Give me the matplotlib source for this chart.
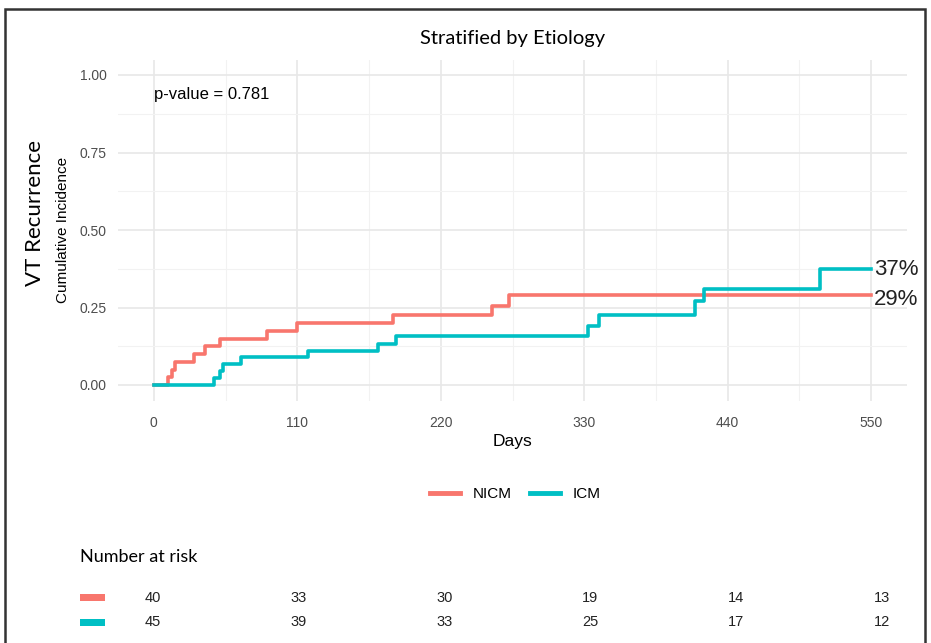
import matplotlib
matplotlib.use("Agg")
import matplotlib.pyplot as plt
from matplotlib.lines import Line2D
from matplotlib.patches import Rectangle

# cumulative incidence steps
nicm_days = [0, 11, 14, 16, 31, 39, 51, 87, 110, 183, 259, 272, 550]
nicm_inc = [0, 0.025, 0.05, 0.075, 0.10, 0.125, 0.15, 0.175, 0.20, 0.225, 0.255, 0.29, 0.29]
icm_days = [0, 46, 51, 53, 67, 118, 172, 186, 333, 341, 415, 422, 511, 550]
icm_inc = [0, 0.022, 0.044, 0.067, 0.089, 0.111, 0.133, 0.158, 0.19, 0.226, 0.27, 0.31, 0.373, 0.373]

groups = ["NICM", "ICM"]
colors = ["#F8766D", "#00BFC4"]
end_labels = ["29%", "37%"]
end_pos = [0.275, 0.374]

risk_days = [0, 110, 220, 330, 440, 550]
risk_nicm = [40, 33, 30, 19, 14, 13]
risk_icm = [45, 39, 33, 25, 17, 12]

W, H = 931, 643
fig = plt.figure(figsize=(W / 100, H / 100), dpi=100)

def fbox(x0, y0, x1, y1):
    return [x0 / W, 1 - y1 / H, (x1 - x0) / W, (y1 - y0) / H]

# frame around the picture
fig.patches.append(Rectangle((5 / W, -0.05), 920 / W, 1.05 - 9 / H, transform=fig.transFigure,
                             fill=False, edgecolor="#333333", linewidth=1.8))

ax = fig.add_axes(fbox(118, 59.5, 907, 400.5))
ax.step(nicm_days, nicm_inc, where="post", color=colors[0], lw=2.6)
ax.step(icm_days, icm_inc, where="post", color=colors[1], lw=2.6)
ax.set_xlim(-27.5, 577.5)
ax.set_ylim(-0.05, 1.05)
ax.set_xticks(risk_days)
ax.set_xticks([55, 165, 275, 385, 495], minor=True)
ax.set_yticks([0, 0.25, 0.5, 0.75, 1.0])
ax.set_yticks([0.125, 0.375, 0.625, 0.875], minor=True)
ax.set_yticklabels(["0.00", "0.25", "0.50", "0.75", "1.00"])
ax.grid(which="major", color="#E8E8E8", lw=1.2)
ax.grid(which="minor", color="#F2F2F2", lw=0.8)
ax.set_axisbelow(True)
for s in ax.spines.values():
    s.set_visible(False)
ax.tick_params(which="both", length=0, labelsize=10, labelcolor="#4D4D4D",
               labelfontfamily="Liberation Sans")
ax.tick_params(axis="x", pad=11)
ax.tick_params(axis="y", pad=8)
ax.set_xlabel("Days", fontsize=12.5, family="Liberation Sans", labelpad=3)
ax.set_title("Stratified by Etiology", fontsize=14.5, family="Lato", pad=11)

for lab, y in zip(end_labels, end_pos):
    ax.text(552, y, lab, fontsize=16, color="#222222", va="center", ha="left",
            family="Liberation Sans", clip_on=False)
ax.text(0, 0.937, "p-value = 0.781", fontsize=12, family="Liberation Sans", va="center")

fig.text(35 / W, 1 - 213 / H, "VT Recurrence", rotation=90, fontsize=16, family="Lato",
         ha="center", va="center")
fig.text(63 / W, 1 - 230 / H, "Cumulative Incidence", rotation=90, fontsize=11,
         family="Liberation Sans", ha="center", va="center")

handles = [Line2D([], [], color=c, lw=3.5) for c in colors]
fig.legend(handles, groups, loc="center", bbox_to_anchor=(515 / W, 1 - 494 / H), ncol=2,
           frameon=False, prop={"family": "Liberation Sans", "size": 11},
           handlelength=2.0, columnspacing=1.2, handletextpad=0.8)

# number at risk table
fig.text(80 / W, 1 - 557 / H, "Number at risk", fontsize=13, family="Lato", va="center")
rax = fig.add_axes(fbox(118, 585, 907, 635))
rax.set_xlim(-26.4, 568.8)
rax.set_ylim(0, 2)
rax.axis("off")
for row, (vals, c) in enumerate(zip([risk_nicm, risk_icm], colors)):
    y = 1.5 - row
    for d, v in zip(risk_days, vals):
        rax.text(d, y, str(v), ha="center", va="center", fontsize=10.5,
                 family="Liberation Sans", color="#222222")
    fig.patches.append(Rectangle((80 / W, 1 - (597 + 25 * row + 3.5) / H), 25 / W, 7 / H,
                                 transform=fig.transFigure, color=c, lw=0))

fig.savefig("out.png", dpi=100)
